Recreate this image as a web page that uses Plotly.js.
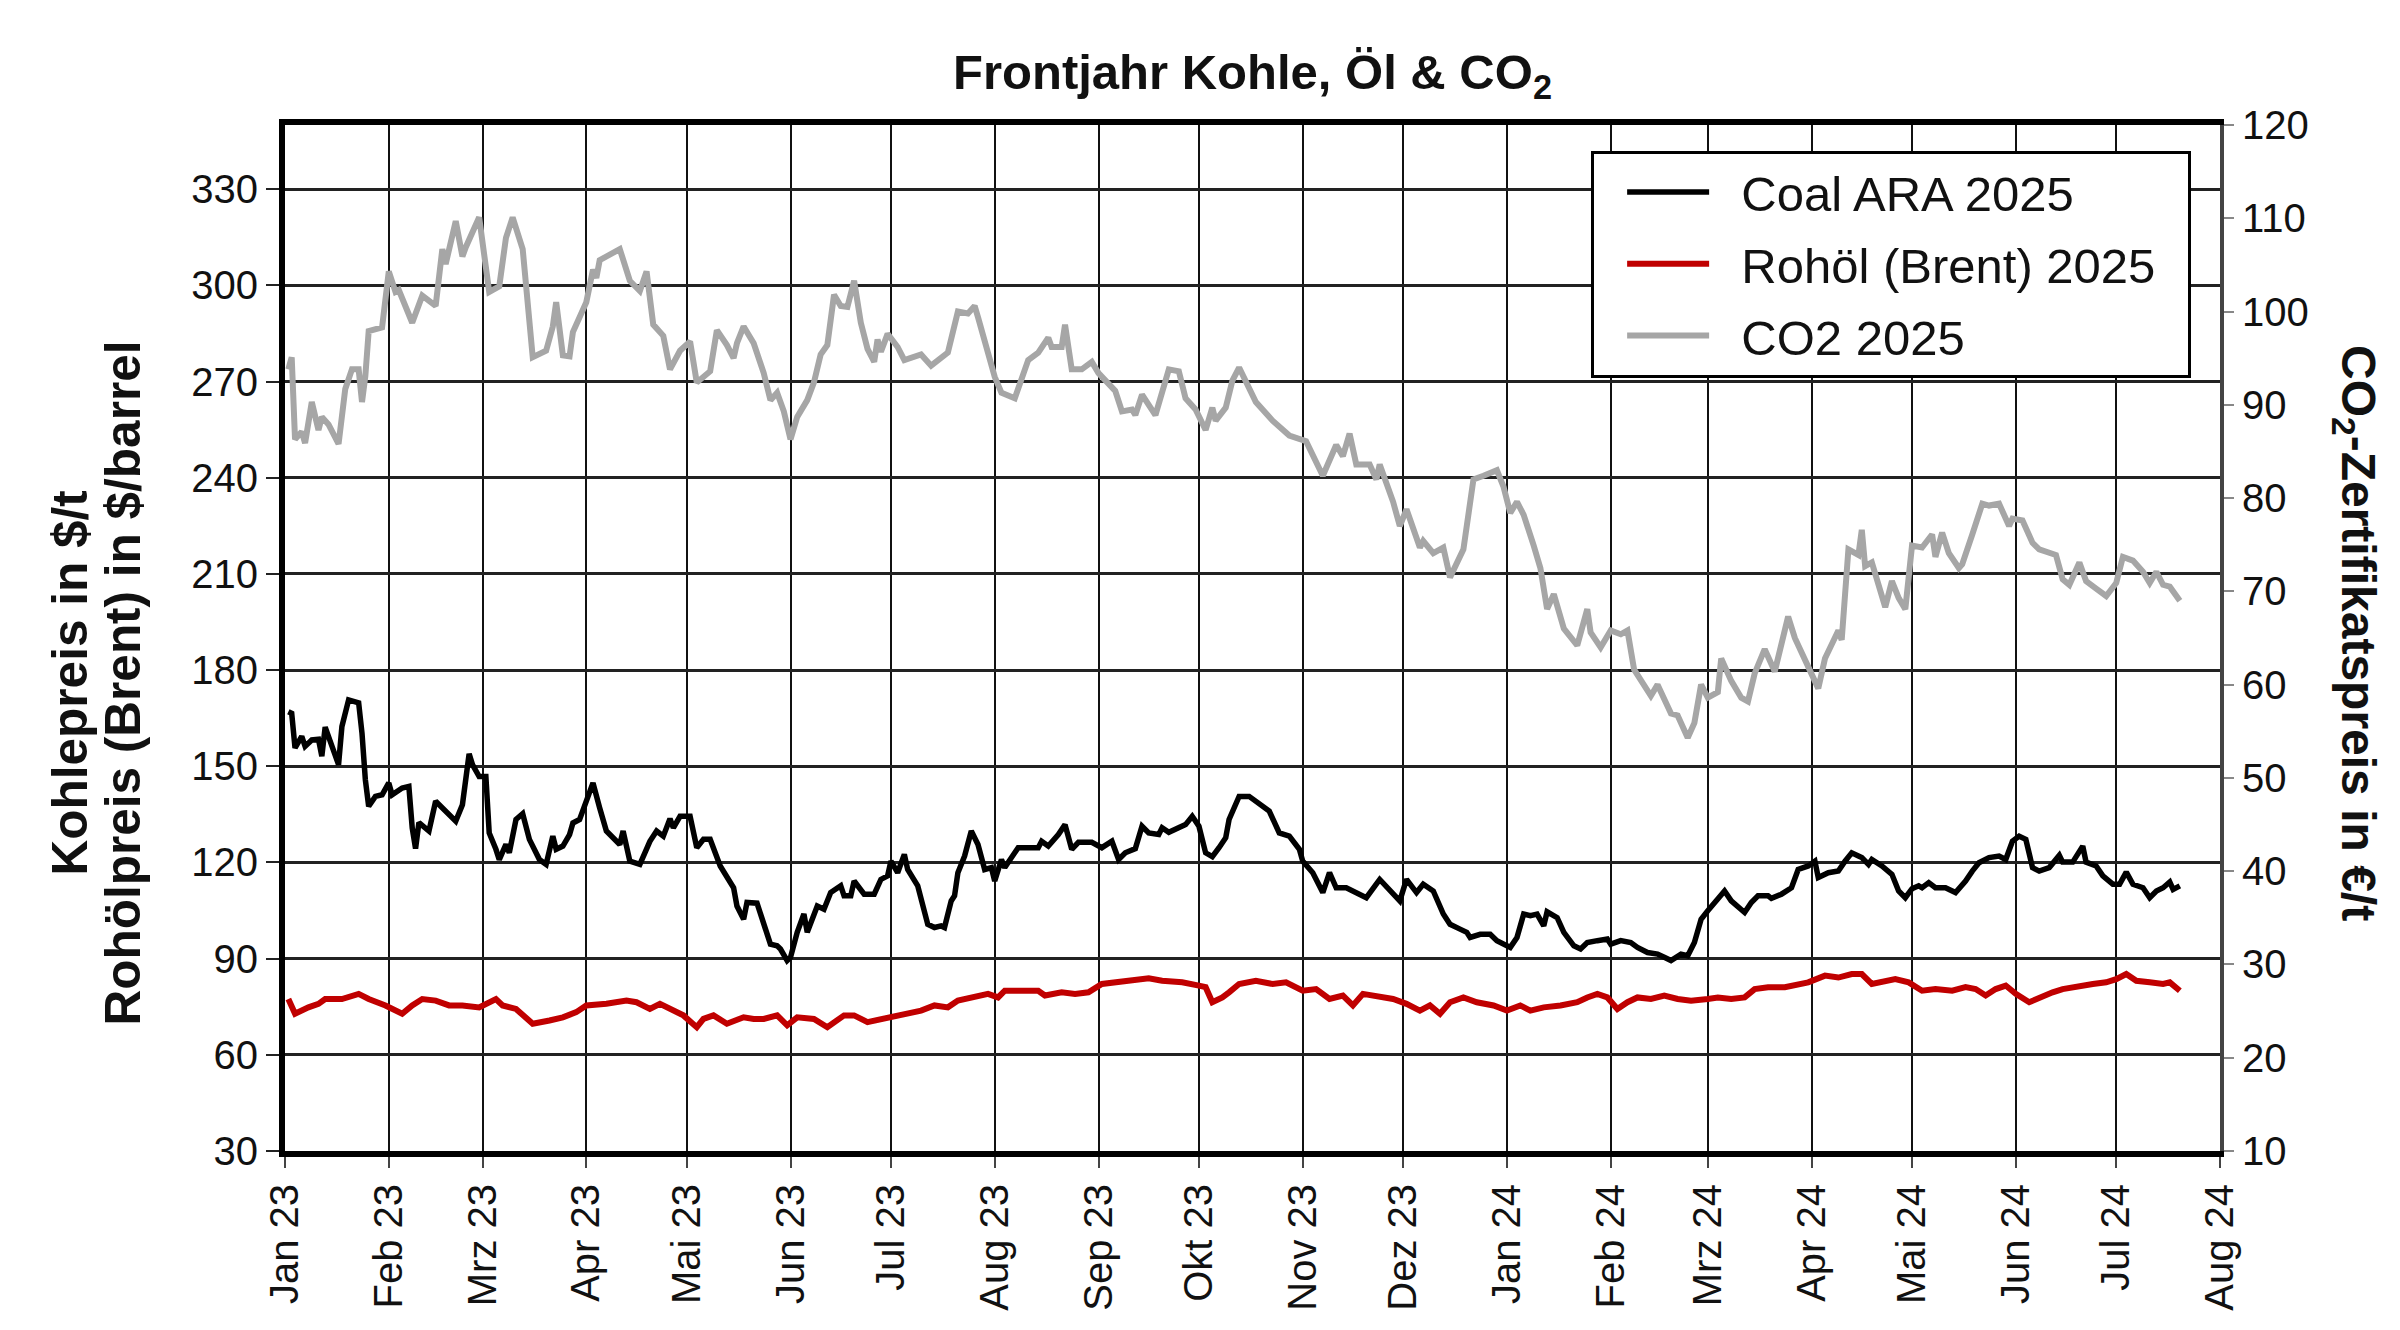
<!DOCTYPE html>
<html>
<head>
<meta charset="utf-8">
<script src="https://cdn.plot.ly/plotly-3.0.1.min.js"></script>
<style>
    html, body { margin: 0; padding: 0; background: #fff; }
    #chart { width: 2400px; height: 1330px; }
</style>
</head>
<body>
<div id="chart"></div>
<script>
// ── Data ──

const monthTicks = [
    '2023-01-01', '2023-02-01', '2023-03-01', '2023-04-01', '2023-05-01',
    '2023-06-01', '2023-07-01', '2023-08-01', '2023-09-01', '2023-10-01',
    '2023-11-01', '2023-12-01', '2024-01-01', '2024-02-01', '2024-03-01',
    '2024-04-01', '2024-05-01', '2024-06-01', '2024-07-01', '2024-08-01'
];
const monthLabels = [
    'Jan 23', 'Feb 23', 'Mrz 23', 'Apr 23', 'Mai 23', 'Jun 23', 'Jul 23',
    'Aug 23', 'Sep 23', 'Okt 23', 'Nov 23', 'Dez 23', 'Jan 24', 'Feb 24',
    'Mrz 24', 'Apr 24', 'Mai 24', 'Jun 24', 'Jul 24', 'Aug 24'
];

const coalDates = [
    '2023-01-02', '2023-01-03', '2023-01-04', '2023-01-06', '2023-01-07', '2023-01-09',
    '2023-01-11', '2023-01-12', '2023-01-13', '2023-01-14', '2023-01-17', '2023-01-18',
    '2023-01-20', '2023-01-23', '2023-01-24', '2023-01-25', '2023-01-26', '2023-01-28',
    '2023-01-30', '2023-02-01', '2023-02-02', '2023-02-05', '2023-02-07', '2023-02-08',
    '2023-02-09', '2023-02-10', '2023-02-13', '2023-02-15', '2023-02-18', '2023-02-21',
    '2023-02-23', '2023-02-25', '2023-02-26', '2023-02-28', '2023-03-02', '2023-03-03',
    '2023-03-05', '2023-03-06', '2023-03-08', '2023-03-09', '2023-03-11', '2023-03-13',
    '2023-03-15', '2023-03-18', '2023-03-20', '2023-03-22', '2023-03-23', '2023-03-25',
    '2023-03-27', '2023-03-28', '2023-03-30', '2023-04-01', '2023-04-03', '2023-04-05',
    '2023-04-07', '2023-04-09', '2023-04-11', '2023-04-12', '2023-04-14', '2023-04-17',
    '2023-04-20', '2023-04-22', '2023-04-24', '2023-04-26', '2023-04-27', '2023-04-29',
    '2023-05-02', '2023-05-04', '2023-05-06', '2023-05-08', '2023-05-11', '2023-05-15',
    '2023-05-16', '2023-05-18', '2023-05-19', '2023-05-22', '2023-05-24', '2023-05-26',
    '2023-05-28', '2023-05-29', '2023-05-31', '2023-06-01', '2023-06-03', '2023-06-05',
    '2023-06-06', '2023-06-09', '2023-06-11', '2023-06-13', '2023-06-16', '2023-06-17',
    '2023-06-19', '2023-06-20', '2023-06-23', '2023-06-26', '2023-06-28', '2023-06-30',
    '2023-07-01', '2023-07-03', '2023-07-05', '2023-07-06', '2023-07-09', '2023-07-11',
    '2023-07-12', '2023-07-14', '2023-07-16', '2023-07-17', '2023-07-19', '2023-07-20',
    '2023-07-21', '2023-07-23', '2023-07-25', '2023-07-27', '2023-07-29', '2023-07-31',
    '2023-08-01', '2023-08-03', '2023-08-04', '2023-08-08', '2023-08-14', '2023-08-15',
    '2023-08-17', '2023-08-20', '2023-08-22', '2023-08-24', '2023-08-26', '2023-08-30',
    '2023-09-02', '2023-09-05', '2023-09-07', '2023-09-09', '2023-09-12', '2023-09-14',
    '2023-09-16', '2023-09-19', '2023-09-20', '2023-09-22', '2023-09-25', '2023-09-27',
    '2023-09-29', '2023-10-01', '2023-10-03', '2023-10-05', '2023-10-07', '2023-10-09',
    '2023-10-10', '2023-10-13', '2023-10-16', '2023-10-18', '2023-10-22', '2023-10-25',
    '2023-10-28', '2023-10-31', '2023-11-01', '2023-11-04', '2023-11-07', '2023-11-09',
    '2023-11-11', '2023-11-14', '2023-11-17', '2023-11-20', '2023-11-24', '2023-11-27',
    '2023-11-30', '2023-12-02', '2023-12-05', '2023-12-07', '2023-12-10', '2023-12-13',
    '2023-12-15', '2023-12-18', '2023-12-20', '2023-12-21', '2023-12-24', '2023-12-27',
    '2023-12-29', '2024-01-02', '2024-01-04', '2024-01-06', '2024-01-08', '2024-01-10',
    '2024-01-12', '2024-01-13', '2024-01-16', '2024-01-18', '2024-01-21', '2024-01-23',
    '2024-01-25', '2024-01-28', '2024-01-31', '2024-02-01', '2024-02-04', '2024-02-07',
    '2024-02-09', '2024-02-12', '2024-02-15', '2024-02-17', '2024-02-19', '2024-02-22',
    '2024-02-24', '2024-02-26', '2024-02-27', '2024-02-28', '2024-03-01', '2024-03-03',
    '2024-03-06', '2024-03-08', '2024-03-09', '2024-03-12', '2024-03-14', '2024-03-16',
    '2024-03-19', '2024-03-20', '2024-03-23', '2024-03-26', '2024-03-28', '2024-03-31',
    '2024-04-02', '2024-04-03', '2024-04-06', '2024-04-09', '2024-04-11', '2024-04-13',
    '2024-04-15', '2024-04-16', '2024-04-18', '2024-04-19', '2024-04-22', '2024-04-25',
    '2024-04-27', '2024-04-29', '2024-05-01', '2024-05-03', '2024-05-04', '2024-05-06',
    '2024-05-08', '2024-05-11', '2024-05-14', '2024-05-17', '2024-05-19', '2024-05-21',
    '2024-05-24', '2024-05-27', '2024-05-29', '2024-05-31', '2024-06-02', '2024-06-04',
    '2024-06-06', '2024-06-08', '2024-06-11', '2024-06-14', '2024-06-15', '2024-06-18',
    '2024-06-21', '2024-06-22', '2024-06-25', '2024-06-27', '2024-06-30', '2024-07-02',
    '2024-07-04', '2024-07-06', '2024-07-09', '2024-07-11', '2024-07-13', '2024-07-15',
    '2024-07-17', '2024-07-18', '2024-07-20'
];
const coalValues = [
    167.0, 166.5, 155.7, 159.3, 156.2, 158.2,
    158.4, 153.1, 162.2, 159.3, 150.5, 162.4,
    170.7, 169.8, 160.3, 145.8, 137.5, 140.6,
    141.1, 144.8, 141.1, 143.2, 143.7, 130.8,
    124.3, 132.4, 129.8, 139.1, 136.0, 132.9,
    138.0, 153.9, 150.5, 146.8, 146.8, 129.2,
    124.1, 120.9, 125.6, 123.0, 133.4, 135.2,
    127.2, 120.9, 119.4, 128.2, 124.1, 125.1,
    128.7, 132.3, 133.4, 139.6, 144.8, 137.0,
    129.8, 127.7, 125.6, 129.8, 120.4, 119.4,
    126.6, 129.8, 128.2, 133.6, 130.8, 134.4,
    134.4, 124.6, 127.2, 127.2, 118.9, 112.1,
    106.4, 102.3, 107.5, 107.3, 101.3, 94.5,
    94.0, 93.0, 89.4, 90.4, 98.2, 103.9,
    98.2, 106.4, 105.4, 110.6, 112.7, 109.6,
    109.6, 114.2, 110.1, 110.1, 114.7, 115.8,
    120.4, 116.8, 122.5, 117.8, 112.7, 105.4,
    100.7, 99.7, 100.2, 99.7, 108.0, 109.6,
    116.8, 122.0, 129.8, 125.6, 117.8, 118.4,
    114.2, 120.9, 118.4, 124.6, 124.6, 126.6,
    125.1, 128.7, 131.8, 124.1, 126.3, 126.3,
    124.6, 126.6, 120.9, 123.0, 124.3, 131.3,
    129.2, 128.7, 130.8, 129.4, 131.1, 131.8,
    134.4, 131.3, 123.0, 121.8, 124.6, 127.7,
    133.4, 140.6, 140.6, 139.1, 136.0, 129.2,
    128.2, 124.1, 120.4, 116.8, 110.6, 116.8,
    112.1, 112.1, 110.6, 109.0, 114.7, 111.6,
    108.0, 114.7, 110.6, 113.2, 111.1, 103.9,
    100.7, 99.2, 98.2, 96.6, 97.6, 97.6,
    95.6, 93.5, 96.6, 103.9, 103.4, 103.9,
    100.2, 104.6, 102.8, 98.2, 94.0, 93.0,
    95.0, 95.6, 96.1, 94.5, 95.6, 95.0,
    93.5, 91.9, 91.4, 90.4, 89.4, 91.4,
    90.9, 95.0, 98.2, 102.3, 104.9, 107.5,
    111.1, 108.0, 107.0, 104.4, 107.5, 109.6,
    109.6, 108.8, 110.1, 112.1, 117.8, 118.9,
    120.4, 115.3, 116.8, 117.3, 120.4, 123.0,
    122.0, 121.5, 119.4, 120.9, 118.9, 116.3,
    111.1, 109.0, 111.8, 112.7, 112.1, 113.7,
    112.1, 112.1, 110.6, 114.2, 117.3, 119.9,
    121.5, 122.0, 120.9, 126.6, 128.2, 127.2,
    118.4, 117.3, 118.4, 122.2, 120.1, 120.1,
    125.1, 120.1, 118.9, 115.8, 113.2, 113.2,
    117.0, 113.2, 112.1, 109.0, 111.1, 112.1,
    113.9, 111.6, 112.7
];

const brentDates = [
    '2023-01-02', '2023-01-04', '2023-01-08', '2023-01-11', '2023-01-13', '2023-01-18',
    '2023-01-23', '2023-01-26', '2023-01-31', '2023-02-05', '2023-02-08', '2023-02-11',
    '2023-02-15', '2023-02-19', '2023-02-23', '2023-02-28', '2023-03-05', '2023-03-07',
    '2023-03-11', '2023-03-13', '2023-03-16', '2023-03-21', '2023-03-25', '2023-03-29',
    '2023-04-01', '2023-04-07', '2023-04-13', '2023-04-16', '2023-04-20', '2023-04-23',
    '2023-04-26', '2023-04-30', '2023-05-04', '2023-05-06', '2023-05-09', '2023-05-13',
    '2023-05-18', '2023-05-21', '2023-05-24', '2023-05-28', '2023-05-31', '2023-06-03',
    '2023-06-08', '2023-06-12', '2023-06-17', '2023-06-20', '2023-06-24', '2023-06-28',
    '2023-07-03', '2023-07-06', '2023-07-10', '2023-07-14', '2023-07-18', '2023-07-21',
    '2023-07-25', '2023-07-30', '2023-08-02', '2023-08-04', '2023-08-09', '2023-08-14',
    '2023-08-16', '2023-08-21', '2023-08-25', '2023-08-29', '2023-09-02', '2023-09-07',
    '2023-09-12', '2023-09-16', '2023-09-20', '2023-09-26', '2023-10-01', '2023-10-03',
    '2023-10-05', '2023-10-08', '2023-10-10', '2023-10-13', '2023-10-18', '2023-10-23',
    '2023-10-27', '2023-11-01', '2023-11-05', '2023-11-09', '2023-11-13', '2023-11-16',
    '2023-11-19', '2023-11-23', '2023-11-28', '2023-12-02', '2023-12-06', '2023-12-09',
    '2023-12-12', '2023-12-15', '2023-12-19', '2023-12-23', '2023-12-28', '2024-01-01',
    '2024-01-05', '2024-01-08', '2024-01-12', '2024-01-17', '2024-01-22', '2024-01-25',
    '2024-01-28', '2024-01-31', '2024-02-03', '2024-02-06', '2024-02-09', '2024-02-13',
    '2024-02-17', '2024-02-21', '2024-02-25', '2024-03-01', '2024-03-04', '2024-03-08',
    '2024-03-12', '2024-03-15', '2024-03-19', '2024-03-24', '2024-03-28', '2024-03-31',
    '2024-04-05', '2024-04-09', '2024-04-13', '2024-04-16', '2024-04-19', '2024-04-23',
    '2024-04-26', '2024-04-30', '2024-05-04', '2024-05-08', '2024-05-13', '2024-05-17',
    '2024-05-20', '2024-05-23', '2024-05-26', '2024-05-29', '2024-06-01', '2024-06-05',
    '2024-06-08', '2024-06-12', '2024-06-15', '2024-06-20', '2024-06-24', '2024-06-28',
    '2024-07-01', '2024-07-04', '2024-07-07', '2024-07-11', '2024-07-15', '2024-07-17',
    '2024-07-20'
];
const brentValues = [
    77.4, 72.8, 74.8, 75.9, 77.4, 77.4,
    79.0, 77.4, 75.4, 72.8, 75.4, 77.4,
    76.9, 75.4, 75.4, 74.8, 77.4, 75.4,
    74.3, 72.3, 69.7, 70.7, 71.7, 73.3,
    75.4, 75.9, 76.9, 76.4, 74.3, 75.9,
    74.3, 72.3, 68.6, 71.2, 72.3, 69.7,
    71.7, 71.2, 71.2, 72.3, 69.2, 71.7,
    71.2, 68.6, 72.3, 72.3, 70.2, 71.2,
    72.3, 72.8, 73.8, 75.4, 74.8, 76.9,
    77.9, 79.0, 77.9, 80.0, 80.0, 80.0,
    78.5, 79.5, 79.0, 79.5, 82.1, 82.6,
    83.1, 83.9, 83.1, 82.6, 81.6, 81.1,
    76.4, 77.9, 79.5, 82.1, 83.1, 82.1,
    82.6, 80.0, 80.5, 77.4, 78.5, 75.4,
    79.0, 78.5, 77.4, 75.9, 73.8, 75.4,
    72.8, 76.4, 77.9, 76.4, 75.4, 73.8,
    75.4, 73.8, 74.8, 75.4, 76.4, 77.9,
    79.0, 77.9, 74.3, 76.4, 77.9, 77.4,
    78.5, 77.4, 76.9, 77.4, 77.9, 77.4,
    77.9, 80.5, 81.1, 81.1, 82.1, 82.6,
    84.7, 84.1, 85.2, 85.2, 82.1, 83.1,
    83.6, 82.6, 80.0, 80.5, 80.0, 81.1,
    80.5, 78.5, 80.5, 81.6, 79.0, 76.4,
    77.9, 79.5, 80.5, 81.6, 82.1, 82.6,
    83.6, 85.2, 83.1, 82.6, 82.1, 82.6,
    80.0
];

const co2Dates = [
    '2023-01-02', '2023-01-03', '2023-01-04', '2023-01-06', '2023-01-07', '2023-01-09',
    '2023-01-11', '2023-01-12', '2023-01-14', '2023-01-17', '2023-01-19', '2023-01-21',
    '2023-01-23', '2023-01-24', '2023-01-25', '2023-01-26', '2023-01-30', '2023-02-01',
    '2023-02-03', '2023-02-04', '2023-02-08', '2023-02-11', '2023-02-15', '2023-02-17',
    '2023-02-18', '2023-02-21', '2023-02-23', '2023-02-24', '2023-02-28', '2023-03-01',
    '2023-03-03', '2023-03-06', '2023-03-08', '2023-03-10', '2023-03-13', '2023-03-16',
    '2023-03-20', '2023-03-22', '2023-03-23', '2023-03-25', '2023-03-27', '2023-03-28',
    '2023-04-01', '2023-04-03', '2023-04-04', '2023-04-05', '2023-04-11', '2023-04-14',
    '2023-04-17', '2023-04-19', '2023-04-21', '2023-04-24', '2023-04-26', '2023-04-29',
    '2023-05-02', '2023-05-04', '2023-05-08', '2023-05-10', '2023-05-13', '2023-05-15',
    '2023-05-16', '2023-05-18', '2023-05-21', '2023-05-24', '2023-05-26', '2023-05-28',
    '2023-05-30', '2023-06-01', '2023-06-03', '2023-06-06', '2023-06-08', '2023-06-10',
    '2023-06-12', '2023-06-14', '2023-06-16', '2023-06-18', '2023-06-20', '2023-06-22',
    '2023-06-24', '2023-06-26', '2023-06-27', '2023-06-28', '2023-06-30', '2023-07-03',
    '2023-07-05', '2023-07-10', '2023-07-13', '2023-07-18', '2023-07-21', '2023-07-24',
    '2023-07-26', '2023-07-27', '2023-07-29', '2023-08-01', '2023-08-03', '2023-08-07',
    '2023-08-11', '2023-08-14', '2023-08-17', '2023-08-18', '2023-08-21', '2023-08-22',
    '2023-08-24', '2023-08-27', '2023-08-30', '2023-09-01', '2023-09-06', '2023-09-08',
    '2023-09-11', '2023-09-12', '2023-09-14', '2023-09-18', '2023-09-22', '2023-09-25',
    '2023-09-27', '2023-09-30', '2023-10-03', '2023-10-05', '2023-10-06', '2023-10-09',
    '2023-10-11', '2023-10-13', '2023-10-18', '2023-10-23', '2023-10-28', '2023-11-02',
    '2023-11-07', '2023-11-11', '2023-11-13', '2023-11-15', '2023-11-17', '2023-11-21',
    '2023-11-23', '2023-11-24', '2023-11-28', '2023-11-30', '2023-12-02', '2023-12-06',
    '2023-12-07', '2023-12-10', '2023-12-13', '2023-12-15', '2023-12-19', '2023-12-22',
    '2023-12-25', '2023-12-29', '2023-12-31', '2024-01-02', '2024-01-04', '2024-01-06',
    '2024-01-09', '2024-01-11', '2024-01-13', '2024-01-15', '2024-01-18', '2024-01-22',
    '2024-01-25', '2024-01-26', '2024-01-29', '2024-02-01', '2024-02-04', '2024-02-06',
    '2024-02-08', '2024-02-13', '2024-02-15', '2024-02-19', '2024-02-21', '2024-02-24',
    '2024-02-26', '2024-02-28', '2024-03-01', '2024-03-04', '2024-03-05', '2024-03-08',
    '2024-03-11', '2024-03-13', '2024-03-15', '2024-03-18', '2024-03-21', '2024-03-25',
    '2024-03-27', '2024-03-31', '2024-04-03', '2024-04-05', '2024-04-09', '2024-04-10',
    '2024-04-12', '2024-04-15', '2024-04-16', '2024-04-17', '2024-04-19', '2024-04-23',
    '2024-04-25', '2024-04-27', '2024-04-29', '2024-05-01', '2024-05-04', '2024-05-07',
    '2024-05-08', '2024-05-10', '2024-05-12', '2024-05-15', '2024-05-16', '2024-05-19',
    '2024-05-22', '2024-05-24', '2024-05-27', '2024-05-30', '2024-05-31', '2024-06-03',
    '2024-06-06', '2024-06-08', '2024-06-13', '2024-06-15', '2024-06-17', '2024-06-20',
    '2024-06-22', '2024-06-25', '2024-06-28', '2024-07-01', '2024-07-03', '2024-07-06',
    '2024-07-09', '2024-07-11', '2024-07-13', '2024-07-15', '2024-07-17', '2024-07-20'
];
const co2Values = [
    93.8, 95.1, 86.3, 87.1, 85.9, 90.3,
    87.3, 88.7, 87.9, 85.8, 91.7, 93.8,
    93.8, 90.3, 93.1, 97.9, 98.3, 104.3,
    102.1, 102.3, 98.8, 101.7, 100.6, 106.7,
    105.1, 109.7, 105.9, 106.9, 110.1, 107.7,
    102.1, 102.7, 107.9, 110.1, 106.7, 95.1,
    95.8, 98.4, 101.0, 95.3, 95.2, 97.8,
    101.0, 104.5, 103.6, 105.5, 106.7, 103.3,
    102.2, 104.3, 98.6, 97.4, 93.8, 95.8,
    96.8, 92.4, 93.6, 98.0, 96.4, 95.0,
    96.6, 98.4, 96.6, 93.4, 90.5, 91.3,
    89.3, 86.3, 88.7, 90.5, 92.4, 95.4,
    96.4, 101.8, 100.6, 100.5, 103.3, 98.8,
    96.0, 94.6, 97.0, 95.7, 97.6, 96.2,
    94.8, 95.4, 94.2, 95.6, 100.0, 99.8,
    100.6, 99.4, 96.6, 93.0, 91.3, 90.7,
    94.8, 95.6, 97.2, 96.2, 96.2, 98.6,
    93.8, 93.8, 94.6, 93.4, 91.5, 89.3,
    89.5, 88.9, 91.1, 88.9, 93.8, 93.6,
    90.7, 89.5, 87.3, 89.7, 88.3, 89.7,
    92.6, 94.0, 90.3, 88.3, 86.7, 86.1,
    82.4, 85.7, 84.5, 86.9, 83.6, 83.6,
    82.0, 83.6, 79.6, 77.0, 78.8, 74.7,
    75.4, 74.1, 74.7, 71.5, 74.5, 82.0,
    82.4, 83.0, 81.2, 78.4, 79.6, 78.2,
    74.9, 72.5, 68.1, 69.7, 66.0, 64.2,
    68.1, 65.6, 64.0, 65.8, 65.4, 65.8,
    61.6, 58.8, 60.0, 56.9, 56.7, 54.3,
    55.9, 60.0, 58.6, 59.2, 62.8, 60.4,
    58.6, 58.2, 61.2, 63.8, 61.4, 67.3,
    65.0, 62.0, 59.6, 62.8, 65.8, 64.8,
    74.5, 73.9, 76.6, 72.7, 73.1, 68.3,
    71.1, 69.3, 68.1, 74.9, 74.7, 76.1,
    73.7, 76.3, 74.1, 72.5, 72.9, 76.1,
    79.4, 79.2, 79.4, 77.0, 77.8, 77.6,
    75.2, 74.5, 73.9, 71.3, 70.7, 73.1,
    71.1, 70.3, 69.5, 70.9, 73.7, 73.3,
    72.1, 70.9, 72.1, 70.7, 70.5, 69.0
];

// ── Chart ──

const FONT = '"Liberation Sans", Arial, Helvetica, sans-serif';
const PAD = '\u00a0\u00a0'; // legend text sits a bit right of the line sample

const traces = [
    {
        x: coalDates, y: coalValues, name: PAD + 'Coal ARA 2025',
        type: 'scatter', mode: 'lines', legendgroup: 'coal',
        line: { color: '#000000', width: 5.5 },
    },
    {
        x: brentDates, y: brentValues, name: PAD + 'Rohöl (Brent) 2025' + PAD,
        type: 'scatter', mode: 'lines', legendgroup: 'brent',
        line: { color: '#c00000', width: 6 },
    },
    {
        x: co2Dates, y: co2Values, name: PAD + 'CO2 2025', yaxis: 'y2',
        type: 'scatter', mode: 'lines', legendgroup: 'co2',
        line: { color: '#a6a6a6', width: 6 },
    },
];

const layout = {
    width: 2400,
    height: 1330,
    paper_bgcolor: '#ffffff',
    plot_bgcolor: '#ffffff',
    margin: { l: 285, r: 180, t: 125, b: 179 },
    font: { family: FONT, color: '#111', size: 40 },
    title: {
        text: '<b>Frontjahr Kohle, Öl & CO<sub>2</sub></b>',
        font: { family: FONT, size: 49, color: '#111' },
        x: 0.5, xref: 'paper',
        y: 1 - 72 / 1330, yref: 'container', yanchor: 'middle',
    },
    showlegend: true,
    legend: {
        x: 0.675, y: 0.975, xanchor: 'left', yanchor: 'top',
        bgcolor: '#ffffff', bordercolor: '#000000', borderwidth: 3,
        font: { family: FONT, size: 49, color: '#111' },
        traceorder: 'grouped', tracegroupgap: 5,
        indentation: 28,
        itemwidth: 82,
    },
    xaxis: {
        type: 'date',
        range: ['2023-01-01', '2024-08-01'],
        tickmode: 'array',
        tickvals: monthTicks,
        ticktext: monthLabels,
        tickangle: -90,
        ticks: 'outside', ticklen: 11, tickwidth: 2, tickcolor: '#444',
        tickfont: { family: FONT, size: 40, color: '#111' },
        showgrid: true, gridcolor: '#111', gridwidth: 2,
        showline: true, linecolor: '#000', linewidth: 6, mirror: true,
        zeroline: false,
        fixedrange: true,
    },
    yaxis: {
        range: [30, 350],
        tickmode: 'linear', tick0: 30, dtick: 30,
        ticks: 'outside', ticklen: 13, tickwidth: 2, tickcolor: '#222',
        tickfont: { family: FONT, size: 40, color: '#111' },
        showgrid: true, gridcolor: '#222', gridwidth: 3,
        showline: true, linecolor: '#000', linewidth: 6,
        zeroline: false,
        fixedrange: true,
    },
    yaxis2: {
        overlaying: 'y', side: 'right',
        range: [10, 120],
        tickmode: 'linear', tick0: 10, dtick: 10,
        ticks: 'outside', ticklen: 10, tickwidth: 2, tickcolor: '#888',
        tickfont: { family: FONT, size: 40, color: '#111' },
        showgrid: false,
        showline: true, linecolor: '#444', linewidth: 4,
        zeroline: false,
        fixedrange: true,
    },
    annotations: [
        {
            text: '<b>Kohlepreis in $/t</b>',
            xref: 'paper', yref: 'paper', x: -0.1115, y: 0.456,
            xanchor: 'center', yanchor: 'middle', textangle: -90,
            showarrow: false, font: { family: FONT, size: 49.5, color: '#111' },
        },
        {
            text: '<b>Rohölpreis (Brent) in $/barrel</b>',
            xref: 'paper', yref: 'paper', x: -0.0841, y: 0.456,
            xanchor: 'center', yanchor: 'middle', textangle: -90,
            showarrow: false, font: { family: FONT, size: 49.5, color: '#111' },
        },
        {
            text: '<b>CO<sub>2</sub>-Zertifikatspreis in €/t</b>',
            xref: 'paper', yref: 'paper', x: 1.0697, y: 0.505,
            xanchor: 'center', yanchor: 'middle', textangle: 90,
            showarrow: false, font: { family: FONT, size: 48, color: '#111' },
        },
    ],
};

Plotly.newPlot('chart', traces, layout, { displayModeBar: false, responsive: false, staticPlot: true });
</script>
</body>
</html>
